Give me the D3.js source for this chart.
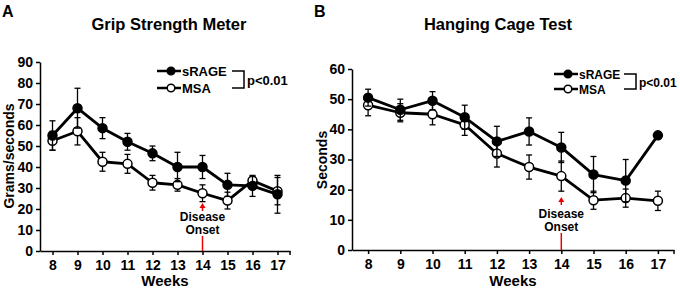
<!DOCTYPE html>
<html>
<head>
<style>
  body { margin: 0; background: #fff; }
  svg text { font-family: "Liberation Sans", Arial, sans-serif; font-weight: bold; fill: #000; }
</style>
</head>
<body>
<svg id="chart" width="680" height="288"></svg>
<script src="https://cdnjs.cloudflare.com/ajax/libs/d3/7.8.5/d3.min.js"></script>
<script>
// Data
const weeks = [8, 9, 10, 11, 12, 13, 14, 15, 16, 17];

const gripSrage    = [55, 68, 58.5, 52, 46.5, 40, 40, 31.5, 31, 27];
const gripSrageErr = [7, 9.5, 5, 4, 3.5, 7, 5.5, 5.5, 5, 9];
const gripMsa      = [52.5, 57, 42.5, 41.5, 32.5, 31.5, 27.5, 24, 33.5, 28.5];
const gripMsaErr   = [4.5, 6.5, 4.5, 4.5, 3.5, 3, 4, 4, 2, 6.5];

const hangSrage    = [50.5, 46.5, 49.5, 44, 36, 39.3, 34, 25, 23, 38];
const hangSrageErr = [2.8, 3.5, 3, 4, 5, 4.5, 5, 6, 7, 0];
const hangMsa      = [48, 45.5, 45, 41.5, 32, 27.5, 24.5, 16.5, 17.2, 16.3];
const hangMsaErr   = [3.5, 3, 3.5, 3.5, 4.5, 4, 5, 3, 3, 3.2];

const gripTicks = [0, 10, 20, 30, 40, 50, 60, 70, 80, 90];
const hangTicks = [0, 10, 20, 30, 40, 50, 60];

const svg = d3.select("#chart");

function panel(cfg) {
  const g = svg.append("g");
  const x = d3.scaleLinear().domain([7.5, 17.5]).range(cfg.xr);
  const y = d3.scaleLinear().domain(cfg.yd).range(cfg.yr);

  // axes
  const xa = g.append("g").attr("transform", `translate(0,${cfg.yr[0]})`)
    .call(d3.axisBottom(x).tickValues(weeks).tickSize(4).tickSizeOuter(0).tickPadding(5));
  const ya = g.append("g").attr("transform", `translate(${cfg.xr[0]},0)`)
    .call(d3.axisLeft(y).tickValues(cfg.yticks).tickSize(4).tickSizeOuter(0).tickPadding(3));
  [xa, ya].forEach(a => {
    a.select(".domain").attr("stroke", "#000").attr("stroke-width", 1.5);
    a.selectAll(".tick line").attr("stroke", "#000").attr("stroke-width", 1.5);
    a.selectAll(".tick text").style("font-size", "14px").attr("fill", "#000");
  });
  g.append("line").attr("x1", cfg.xr[1]).attr("x2", cfg.xr[1])
    .attr("y1", cfg.yr[0]).attr("y2", cfg.yr[0] + 4).attr("stroke", "#000").attr("stroke-width", 1.5);

  // titles
  g.append("text").attr("x", cfg.titleX).attr("y", 30).attr("text-anchor", "middle")
    .style("font-size", "16.5px").text(cfg.title);
  g.append("text").attr("x", cfg.letterX).attr("y", 17).style("font-size", "16px").text(cfg.letter);
  g.append("text").attr("x", (cfg.xr[0] + cfg.xr[1]) / 2).attr("y", 286).attr("text-anchor", "middle")
    .style("font-size", "15px").text("Weeks");
  g.append("text").attr("transform", `translate(${cfg.ylabX},${cfg.ylabY}) rotate(-90)`)
    .attr("text-anchor", "middle").style("font-size", "14px").text(cfg.ylab);

  // disease onset
  const ox = x(14);
  g.append("line").attr("x1", ox).attr("x2", ox).attr("y1", cfg.yr[0]).attr("y2", cfg.onset.lineTop)
    .attr("stroke", "#e00").attr("stroke-width", 1.5);
  g.append("line").attr("x1", ox).attr("x2", ox).attr("y1", cfg.onset.arrowTop + 8).attr("y2", cfg.onset.arrowTop + 2)
    .attr("stroke", "#e00").attr("stroke-width", 1.5);
  g.append("path").attr("d", `M${ox - 3},${cfg.onset.arrowTop + 5}L${ox},${cfg.onset.arrowTop}L${ox + 3},${cfg.onset.arrowTop + 5}Z`)
    .attr("fill", "#e00");
  g.append("text").attr("x", ox).attr("y", cfg.onset.textY).attr("text-anchor", "middle")
    .style("font-size", "12px").text("Disease");
  g.append("text").attr("x", ox).attr("y", cfg.onset.textY + 13).attr("text-anchor", "middle")
    .style("font-size", "12px").text("Onset");

  const line = d3.line().x((d, i) => x(weeks[i])).y(d => y(d));

  function series(vals, errs, filled) {
    const s = g.append("g");
    s.selectAll("g.err").data(vals).join("g").each(function (d, i) {
      if (!errs[i]) return;
      const e = d3.select(this), cx = x(weeks[i]);
      const t = y(d + errs[i]), b = y(d - errs[i]);
      e.append("line").attr("x1", cx).attr("x2", cx).attr("y1", t).attr("y2", b);
      e.append("line").attr("x1", cx - 3).attr("x2", cx + 3).attr("y1", t).attr("y2", t);
      e.append("line").attr("x1", cx - 3).attr("x2", cx + 3).attr("y1", b).attr("y2", b);
      e.selectAll("line").attr("stroke", "#000").attr("stroke-width", 1.3);
    });
    s.append("path").datum(vals).attr("d", line).attr("fill", "none")
      .attr("stroke", "#000").attr("stroke-width", 2.8).attr("stroke-linejoin", "round");
    s.selectAll("circle").data(vals).join("circle")
      .attr("cx", (d, i) => x(weeks[i])).attr("cy", d => y(d)).attr("r", 4.5)
      .attr("fill", filled ? "#000" : "#fff").attr("stroke", "#000").attr("stroke-width", 1.5);
  }
  series(cfg.msa, cfg.msaErr, false);
  series(cfg.srage, cfg.srageErr, true);

  // legend
  const L = cfg.legend;
  [["sRAGE", true, L.y1], ["MSA", false, L.y2]].forEach(([name, filled, ly]) => {
    g.append("line").attr("x1", L.x).attr("x2", L.x + 24).attr("y1", ly).attr("y2", ly)
      .attr("stroke", "#000").attr("stroke-width", 2.5);
    g.append("circle").attr("cx", L.x + 14).attr("cy", ly).attr("r", 3.8)
      .attr("fill", filled ? "#000" : "#fff").attr("stroke", "#000").attr("stroke-width", 1.5);
    g.append("text").attr("x", L.x + 25).attr("y", ly + 5).style("font-size", L.fs + "px").text(name);
  });
  g.append("path").attr("d", `M${L.bx},${L.y1}H${L.bx + 12}V${L.y2}H${L.bx}`)
    .attr("fill", "none").attr("stroke", "#000").attr("stroke-width", 1.5);
  g.append("text").attr("x", L.bx + 15).attr("y", (L.y1 + L.y2) / 2 + 5)
    .style("font-size", L.fs + "px").text("p<0.01");
}

panel({
  xr: [40, 290], yr: [251, 62], yd: [0, 90], yticks: gripTicks,
  title: "Grip Strength Meter", titleX: 169, letter: "A", letterX: 2,
  ylab: "Grams/seconds", ylabX: 14, ylabY: 156,
  srage: gripSrage, srageErr: gripSrageErr, msa: gripMsa, msaErr: gripMsaErr,
  onset: { arrowTop: 203, textY: 221, lineTop: 236 },
  legend: { x: 157, y1: 71, y2: 88, bx: 232, fs: 13 }
});

panel({
  xr: [352, 674], yr: [250, 69], yd: [0, 60], yticks: hangTicks,
  title: "Hanging Cage Test", titleX: 498, letter: "B", letterX: 314,
  ylab: "Seconds", ylabX: 327, ylabY: 160,
  srage: hangSrage, srageErr: hangSrageErr, msa: hangMsa, msaErr: hangMsaErr,
  onset: { arrowTop: 197, textY: 218, lineTop: 233 },
  legend: { x: 554, y1: 74, y2: 89, bx: 624, fs: 12 }
});
</script>
</body>
</html>
